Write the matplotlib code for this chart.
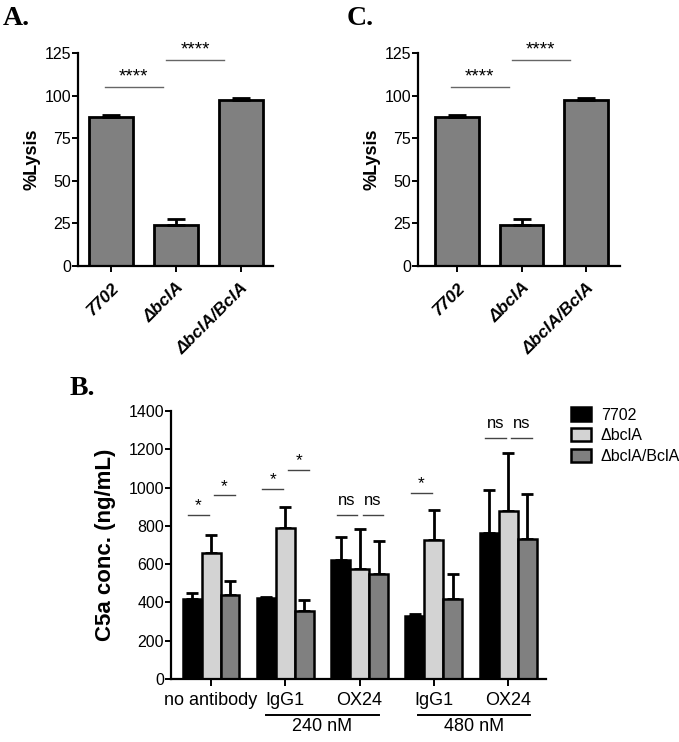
import matplotlib.pyplot as plt
import matplotlib.transforms as mtransforms
from matplotlib.patches import Patch

plt.rcParams['font.family'] = ['Liberation Sans', 'DejaVu Sans']
plt.rcParams['axes.linewidth'] = 1.6

# Panels A and C: % lysis per strain
strains = ["7702", "\u0394bclA", "\u0394bclA/BclA"]
lysis_a = [87.7, 23.9, 97.5]
lysis_a_err = [0.9, 3.6, 0.8]
lysis_c = [87.7, 23.9, 97.5]
lysis_c_err = [0.9, 3.6, 0.8]

# Panel B: C5a concentration
groups = ["no antibody", "IgG1", "OX24", "IgG1", "OX24"]
c5a_7702 = [418, 422, 622, 327, 761]
c5a_7702_err = [30, 4, 121, 12, 226]
c5a_dbcla = [660, 790, 575, 726, 879]
c5a_dbcla_err = [92, 110, 208, 156, 304]
c5a_comp = [439, 353, 547, 417, 730]
c5a_comp_err = [75, 60, 174, 132, 239]
series_names = ["7702", "\u0394bclA", "\u0394bclA/BclA"]
series_colors = ["#000000", "#d3d3d3", "#808080"]

# significance brackets in B: (group, side, y, text)
sig_b = [(0, -1, 857, "*"), (0, 1, 961, "*"),
         (1, -1, 993, "*"), (1, 1, 1092, "*"),
         (2, -1, 857, "ns"), (2, 1, 857, "ns"),
         (3, -1, 973, "*"),
         (4, -1, 1259, "ns"), (4, 1, 1259, "ns")]

fig = plt.figure(figsize=(6.79, 7.42), dpi=100)


def lysis_panel(rect, vals, errs, xlim, letter, letter_x):
    ax = fig.add_axes(rect)
    x = range(len(vals))
    ax.bar(x, vals, width=0.68, color="#808080", edgecolor="black", linewidth=2, zorder=2)
    ax.errorbar(x, vals, yerr=[[0] * len(errs), errs], fmt="none", ecolor="black",
                elinewidth=2, capsize=6.5, capthick=2, zorder=3)
    ax.set_xlim(*xlim)
    ax.set_ylim(0, 125)
    ax.set_yticks([0, 25, 50, 75, 100, 125])
    ax.set_xticks(list(x))
    ax.set_xticklabels(strains, rotation=45, ha="right", rotation_mode="anchor",
                       fontweight="bold", fontstyle="italic", fontsize=12.5)
    ax.tick_params(axis="y", labelsize=11.5, length=4, width=1.4, pad=1)
    ax.tick_params(axis="x", length=4, width=1.4, pad=6)
    ax.spines["top"].set_visible(False)
    ax.spines["right"].set_visible(False)
    ax.set_ylabel("%Lysis", fontsize=13, fontweight="bold", labelpad=3)
    for x0, x1, y in [(-0.1, 0.8, 105), (0.85, 1.75, 121)]:
        ax.plot([x0, x1], [y, y], color="#666666", lw=1, clip_on=False)
        ax.annotate("****", ((x0 + x1) / 2, y), xytext=(0, 1), textcoords="offset points",
                    ha="center", va="bottom", fontsize=13.5, annotation_clip=False)
    fig.text(letter_x, 0.966, letter, fontsize=20, fontweight="bold",
             family="Liberation Serif")
    return ax


lysis_panel([0.1149, 0.6415, 0.2872, 0.2871], lysis_a, lysis_a_err, (-0.51, 2.5), "A.", 0.004)
lysis_panel([0.6156, 0.6415, 0.2975, 0.2871], lysis_c, lysis_c_err, (-0.61, 2.53), "C.", 0.511)

# Panel B
ax = fig.add_axes([0.2518, 0.0849, 0.5523, 0.3612])
w = 0.255
xs = range(len(groups))
all_vals = [c5a_7702, c5a_dbcla, c5a_comp]
all_errs = [c5a_7702_err, c5a_dbcla_err, c5a_comp_err]
for k in range(3):
    pos = [i + (k - 1) * w for i in xs]
    ax.bar(pos, all_vals[k], width=w, color=series_colors[k], edgecolor="black",
           linewidth=1.8, zorder=2)
    ax.errorbar(pos, all_vals[k], yerr=[[0] * len(groups), all_errs[k]], fmt="none",
                ecolor="black", elinewidth=2, capsize=4, capthick=2, zorder=1)
ax.set_xlim(-0.54, 4.51)
ax.set_ylim(0, 1400)
ax.set_yticks(range(0, 1401, 200))
ax.set_xticks(list(xs))
ax.set_xticklabels(groups, fontsize=13)
ax.tick_params(axis="y", labelsize=11.5, length=4, width=1.4, pad=1)
ax.tick_params(axis="x", length=5, width=1.4, pad=4)
ax.spines["top"].set_visible(False)
ax.spines["right"].set_visible(False)
ax.set_ylabel("C5a conc. (ng/mL)", fontsize=16, fontweight="bold", labelpad=9)

for g, side, y, txt in sig_b:
    x0, x1 = (g - 0.31, g - 0.03) if side < 0 else (g + 0.04, g + 0.32)
    ax.plot([x0, x1], [y, y], color="#444444", lw=1, clip_on=False)
    ax.annotate(txt, ((x0 + x1) / 2, y), xytext=(0, 1 if txt == "*" else 5),
                textcoords="offset points", ha="center", va="bottom",
                fontsize=12.5 if txt == "*" else 12, annotation_clip=False)

trans = mtransforms.blended_transform_factory(ax.transData, ax.transAxes)
for x0, x1, txt in [(0.74, 2.26, "240 nM"), (2.78, 4.3, "480 nM")]:
    ax.plot([x0, x1], [-0.134, -0.134], color="black", lw=1.4, transform=trans, clip_on=False)
    ax.text((x0 + x1) / 2, -0.146, txt, transform=trans, ha="center", va="top",
            fontsize=13)

handles = [Patch(facecolor=c, edgecolor="black", linewidth=1.8) for c in series_colors]
fig.legend(handles, series_names, loc="upper left", bbox_to_anchor=(0.832, 0.4596),
           frameon=False, fontsize=11.5, handlelength=1.25, handleheight=0.9,
           handletextpad=0.6, labelspacing=0.35, borderaxespad=0)

fig.text(0.103, 0.468, "B.", fontsize=20, fontweight="bold", family="Liberation Serif")

fig.savefig("out.png", dpi=100)
